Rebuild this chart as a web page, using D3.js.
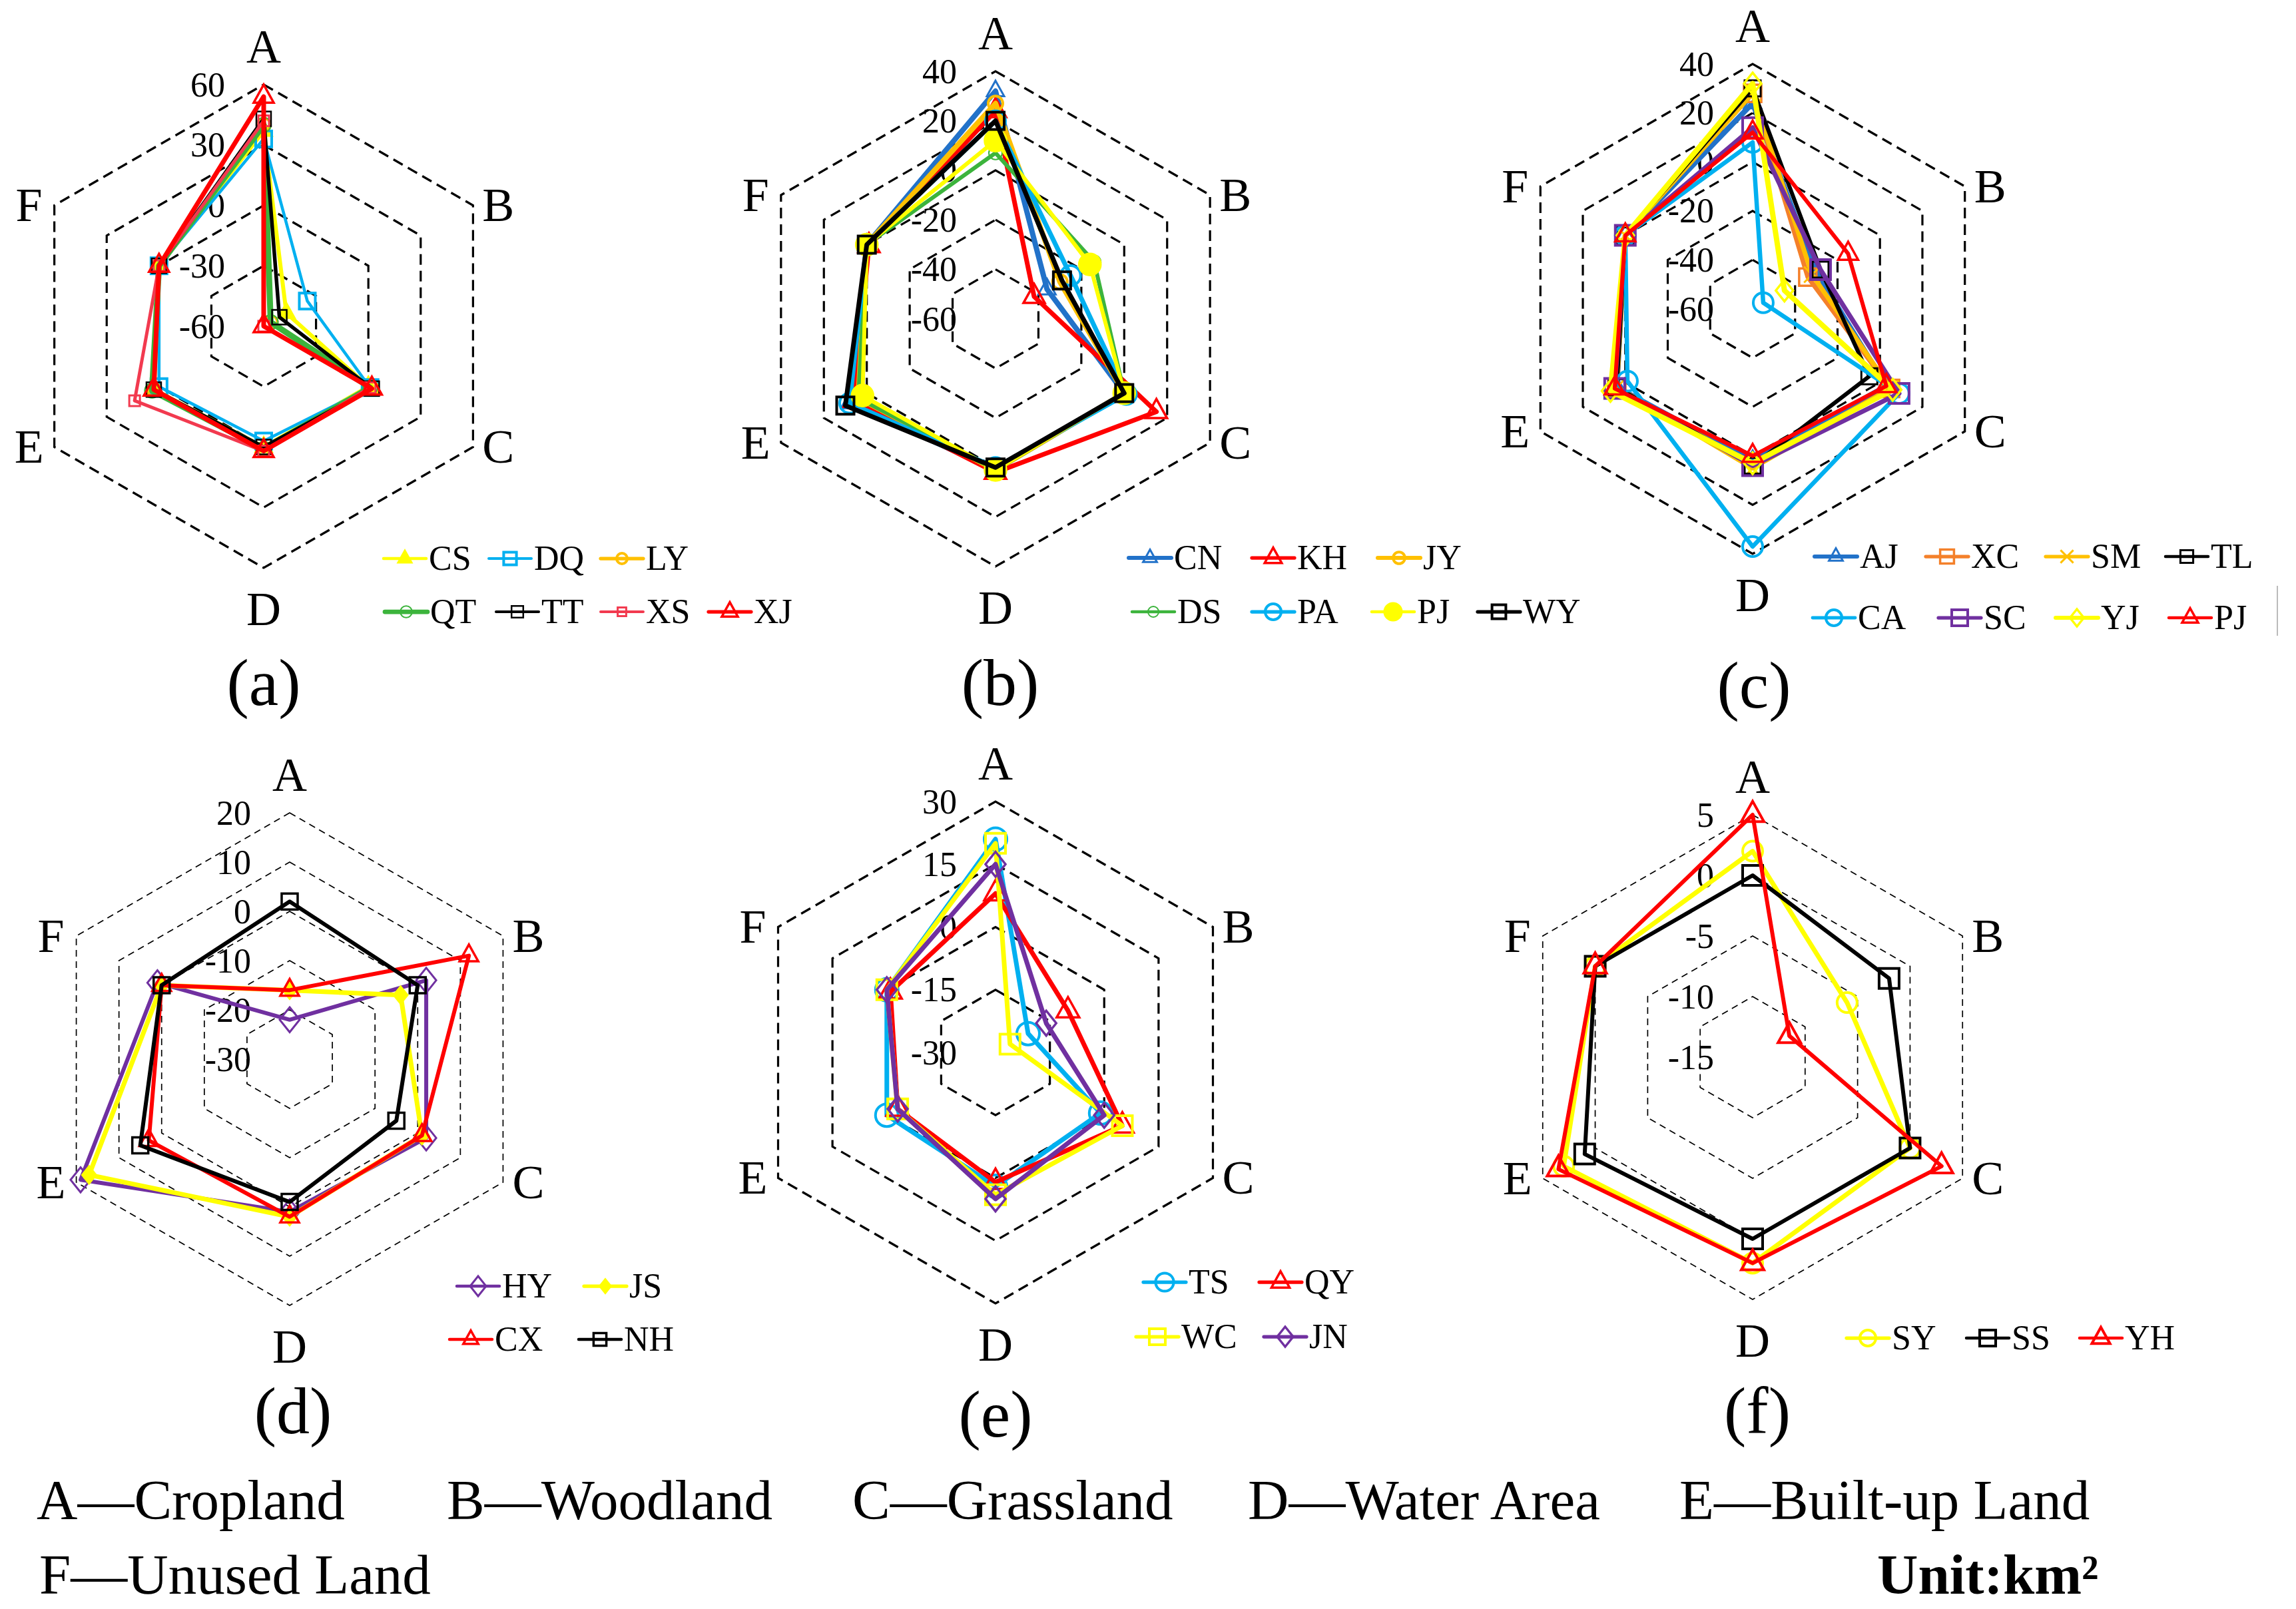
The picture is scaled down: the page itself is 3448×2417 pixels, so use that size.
<!DOCTYPE html>
<html><head><meta charset="utf-8">
<script src="https://cdn.jsdelivr.net/npm/d3@7"></script>
<style>body{margin:0;background:#fff}svg{display:block}</style>
</head><body><svg id="chart" width="3448" height="2417"></svg>
<script>
// ---------- DATA ----------
const categories = ["A","B","C","D","E","F"];

const aTicks = [60, 30, 0, -30, -60];
const aNames = ["CS","DQ","LY","QT","TT","XS","XJ"];
const aValues = [
  [37, -47, 0, 0, 3, 0],
  [33, -35, 1, -3, 0, 0],
  [40, -56, 2, 1, 3, 0],
  [40, -56, 1, 1, 4, 0],
  [43, -51, 2, 0, 3, 0],
  [42, -60, 1, 2, 14, 0],
  [54, -60, 2, 2, 3, 0]
];

const bTicks = [40, 20, 0, -20, -40, -60];
const bNames = ["CN","KH","JY","DS","PA","PJ","WY"];
const bValues = [
  [32, -36, 0, 1, 8, 0],
  [24, -42, 15, 2, 6, -1],
  [27, -30, 0, 1, 4, 0],
  [7, -14, 0, 1, 4, 0],
  [20, -25, 1, 0, 8, 0],
  [12, -16, 0, 1, 2, 0],
  [20, -29, 0, 0, 10, 0]
];

const cTicks = [40, 20, 0, -20, -40, -60];
const cNames = ["AJ","XC","SM","TL","CA","SC","YJ","PJ"];
const cValues = [
  [24, -30, 3, 2, 4, 0],
  [28, -34, 5, 4, 4, 0],
  [28, -32, 5, 5, 4, 0],
  [30, -28, -5, 4, 4, 0],
  [8, -55, 9, 37, -1, 0],
  [14, -28, 9, 4, 5, 0],
  [32, -45, 6, 3, 7, 0],
  [12, -15, 3, 0, 5, 0]
];

const dTicks = [20, 10, 0, -10, -20, -30];
const dNames = ["HY","JS","CX","NH"];
const dValues = [
  [-22, 2, 2, 1, 19, 1],
  [-16, -4, 1, 2, 17, 0],
  [-16, 12, 1, 2, 3, 0],
  [2, 0, -5, -1, 5, 0]
];

const eTicks = [30, 15, 0, -15, -30];
const eNames = ["TS","QY","WC","JN"];
const eValues = [
  [21, -21, -1, 2, 0, 0],
  [8, -10, 5, 1, -3, -1],
  [20, -26, 5, 4, -3, 0],
  [15, -16, 0, 5, -3, 0]
];

const fTicks = [5, 0, -5, -10, -15];
const fNames = ["SY","SS","YH"];
const fValues = [
  [2, -6, 0, 2, 3, 0],
  [0, -2, 0, 0, 1, 0],
  [5, -11.5, 3, 2, 3.5, 0]
];

const footnoteRow1 = ["A\u2014Cropland","B\u2014Woodland","C\u2014Grassland","D\u2014Water Area","E\u2014Built-up Land"];
const footnoteRow2 = ["F\u2014Unused Land"];
const unitLabel = "Unit:km\u00B2";

// ---------- STYLES ----------
const BLUE="#2272C9", LBLUE="#00B0F0", ORANGE="#FFC000", ORANGE2="#F4802A", GREEN="#3CB43C",
      YELLOW="#FFFF00", RED="#FF0000", PINK="#F23A4F", PURPLE="#7030A0", BLACK="#000000";
const aStyles = [
  {c:YELLOW,lw:6,m:"tri",s:12,fill:true},
  {c:LBLUE,lw:4.5,m:"sq",s:12,mw:4},
  {c:ORANGE,lw:7,m:"circ",s:10,mw:4},
  {c:GREEN,lw:9,m:"circ",s:11,mw:2},
  {c:BLACK,lw:5.5,m:"sq",s:11,mw:2.5},
  {c:PINK,lw:5,m:"sq",s:8,mw:3},
  {c:RED,lw:7,m:"tri",s:15,mw:3.5}
];
const bStyles = [
  {c:BLUE,lw:8,m:"tri",s:13,mw:3},
  {c:RED,lw:7,m:"tri",s:16,mw:3.5},
  {c:ORANGE,lw:8,m:"circ",s:11,mw:4},
  {c:GREEN,lw:6,m:"circ",s:10,mw:2},
  {c:LBLUE,lw:7,m:"circ",s:15,mw:4},
  {c:YELLOW,lw:6,m:"circ",s:16,fill:true},
  {c:BLACK,lw:7,m:"sq",s:13,mw:4}
];
const cStyles = [
  {c:BLUE,lw:8,m:"tri",s:13,mw:3},
  {c:ORANGE2,lw:7,m:"sq",s:13,mw:3.5},
  {c:ORANGE,lw:7,m:"x",s:12,mw:3},
  {c:BLACK,lw:6,m:"sq",s:12,mw:3},
  {c:LBLUE,lw:6.5,m:"circ",s:15,mw:4},
  {c:PURPLE,lw:7,m:"sq",s:15,mw:4},
  {c:YELLOW,lw:8,m:"dia",s:13,mw:3.5},
  {c:RED,lw:6,m:"tri",s:15,mw:3.5}
];
const dStyles = [
  {c:PURPLE,lw:6,m:"dia",s:15,mw:3},
  {c:YELLOW,lw:7,m:"dia",s:10,fill:true},
  {c:RED,lw:6,m:"tri",s:14,mw:3.5},
  {c:BLACK,lw:6,m:"sq",s:12,mw:3.5}
];
const eStyles = [
  {c:LBLUE,lw:7,m:"circ",s:17,mw:4},
  {c:RED,lw:7,m:"tri",s:17,mw:3.5},
  {c:YELLOW,lw:7,m:"sq",s:15,mw:4},
  {c:PURPLE,lw:7,m:"dia",s:15,mw:3.5}
];
const fStyles = [
  {c:YELLOW,lw:7,m:"circ",s:15,mw:4},
  {c:BLACK,lw:6,m:"sq",s:15,mw:4},
  {c:RED,lw:6,m:"tri",s:17,mw:4}
];

const heavyGrid = {w:3.2, dash:"16,9"};
const lightGrid = {w:1.7, dash:"10,7"};

// ---------- LAYOUT ----------
const panels = [
  {ticks:aTicks,names:aNames,values:aValues,styles:aStyles,cx:396,cy:490,R:363,grid:heavyGrid,tag:"(a)",tagPos:[396,1059],
   legRows:[839,919], legItems:[[0,576],[0,734],[0,902],[1,578],[1,745],[1,902],[1,1064]]},
  {ticks:bTicks,names:bNames,values:bValues,styles:bStyles,cx:1495,cy:479,R:372,grid:heavyGrid,tag:"(b)",tagPos:[1502,1059],
   legRows:[838,919], legItems:[[0,1695],[0,1880],[0,2069],[1,1700],[1,1880],[1,2060],[1,2219]]},
  {ticks:cTicks,names:cNames,values:cValues,styles:cStyles,cx:2632,cy:464,R:368,grid:heavyGrid,tag:"(c)",tagPos:[2634,1063],
   legRows:[836,928], legItems:[[0,2725],[0,2892],[0,3072],[0,3252],[1,2722],[1,2911],[1,3087],[1,3257]]},
  {ticks:dTicks,names:dNames,values:dValues,styles:dStyles,cx:435,cy:1591,R:370,grid:lightGrid,tag:"(d)",tagPos:[440,2153],
   legRows:[1932,2012], legItems:[[0,686],[0,877],[1,675],[1,869]]},
  {ticks:eTicks,names:eNames,values:eValues,styles:eStyles,cx:1495,cy:1581,R:377,grid:heavyGrid,tag:"(e)",tagPos:[1495,2158],
   legRows:[1926,2008], legItems:[[0,1717],[0,1891],[1,1706],[1,1898]]},
  {ticks:fTicks,names:fNames,values:fValues,styles:fStyles,cx:2632,cy:1588,R:364,grid:lightGrid,tag:"(f)",tagPos:[2639,2153],
   legRows:[2010], legItems:[[0,2773],[0,2953],[0,3123]]}
];

// ---------- DRAW ----------
const FONT = '"Liberation Serif","Times New Roman",Times,serif';
const svg = d3.select("#chart");
svg.append("rect").attr("width",3448).attr("height",2417).attr("fill","#fff");

function markerPath(type, s){
  if(type==="sq") return `M${-s},${-s}H${s}V${s}H${-s}Z`;
  if(type==="tri") return `M0,${-s*1.2}L${s},${s*0.6}L${-s},${s*0.6}Z`;
  if(type==="dia") return `M0,${-s*1.25}L${s},0L0,${s*1.25}L${-s},0Z`;
  if(type==="x") return `M${-s},${-s}L${s},${s}M${-s},${s}L${s},${-s}`;
  if(type==="circ") return `M${s},0A${s},${s},0,1,1,${-s},0A${s},${s},0,1,1,${s},0Z`;
  return "";
}
function drawMarker(g, x, y, st){
  g.append("path").attr("d", markerPath(st.m, st.s))
    .attr("transform",`translate(${x},${y})`)
    .attr("fill", st.fill ? st.c : "none")
    .attr("stroke", st.c).attr("stroke-width", st.mw || 3.5)
    .attr("stroke-linejoin","miter");
}

const ang = i => i*Math.PI/3;
panels.forEach(p=>{
  const g = svg.append("g").attr("transform",`translate(${p.cx},${p.cy})`);
  const min = d3.min(p.ticks), max = d3.max(p.ticks);
  const r = d3.scaleLinear().domain([min,max]).range([0,p.R]).clamp(true);
  const radial = d3.lineRadial().angle((d,i)=>ang(i)).radius(d=>r(d)).curve(d3.curveLinearClosed);

  p.ticks.filter(t=>t!==min).forEach(t=>{
    g.append("path").attr("d", radial(categories.map(()=>t)))
      .attr("fill","none").attr("stroke","#000")
      .attr("stroke-width",p.grid.w).attr("stroke-dasharray",p.grid.dash);
  });

  p.ticks.forEach(t=>{
    g.append("text").attr("x",-58).attr("y",-r(t)+0.34*52)
      .attr("text-anchor","end").attr("font-family",FONT).attr("font-size",52)
      .attr("fill","#000").text(t);
  });

  categories.forEach((c,i)=>{
    const a = ang(i), vx = p.R*Math.sin(a), vy = -p.R*Math.cos(a);
    let dx=0, dy=0;
    if(i===0) dy=-57; else if(i===3) dy=62; else dx = vx>0 ? 38 : -38;
    g.append("text").attr("x",vx+dx).attr("y",vy+dy+0.33*72)
      .attr("text-anchor","middle").attr("font-family",FONT).attr("font-size",72)
      .attr("fill","#000").text(c);
  });

  p.values.forEach((vals,k)=>{
    const st = p.styles[k];
    g.append("path").attr("d", radial(vals)).attr("fill","none")
      .attr("stroke",st.c).attr("stroke-width",st.lw).attr("stroke-linejoin","round");
    vals.forEach((v,i)=>{
      const rr = r(v), a = ang(i);
      drawMarker(g, rr*Math.sin(a), -rr*Math.cos(a), st);
    });
  });

  // legend
  p.legItems.forEach(([row,x0],k)=>{
    const st = p.styles[k], y = p.legRows[row];
    svg.append("line").attr("x1",x0).attr("x2",x0+64).attr("y1",y).attr("y2",y)
      .attr("stroke",st.c).attr("stroke-width",Math.max(4, st.lw*0.75)).attr("stroke-linecap","round");
    drawMarker(svg, x0+32, y, Object.assign({}, st, {s: st.s*0.8}));
    svg.append("text").attr("x",x0+68).attr("y",y+0.33*52)
      .attr("font-family",FONT).attr("font-size",52).attr("fill","#000").text(p.names[k]);
  });

  svg.append("text").attr("x",p.tagPos[0]).attr("y",p.tagPos[1])
    .attr("text-anchor","middle").attr("font-family",FONT).attr("font-size",100)
    .attr("fill","#000").text(p.tag);
});

// stray legend border fragment in panel (c)
svg.append("line").attr("x1",3420).attr("x2",3420).attr("y1",880).attr("y2",955)
  .attr("stroke","#bbb").attr("stroke-width",2);

// footnotes
const row1X = [55, 671, 1280, 1874, 2522];
footnoteRow1.forEach((t,i)=>{
  svg.append("text").attr("x",row1X[i]).attr("y",2282).attr("font-family",FONT)
    .attr("font-size",85).attr("fill","#000").text(t);
});
svg.append("text").attr("x",59).attr("y",2394).attr("font-family",FONT)
  .attr("font-size",85).attr("fill","#000").text(footnoteRow2[0]);
svg.append("text").attr("x",2819).attr("y",2394).attr("font-family",FONT)
  .attr("font-size",85).attr("font-weight","bold").attr("fill","#000").text(unitLabel);
</script></body></html>
